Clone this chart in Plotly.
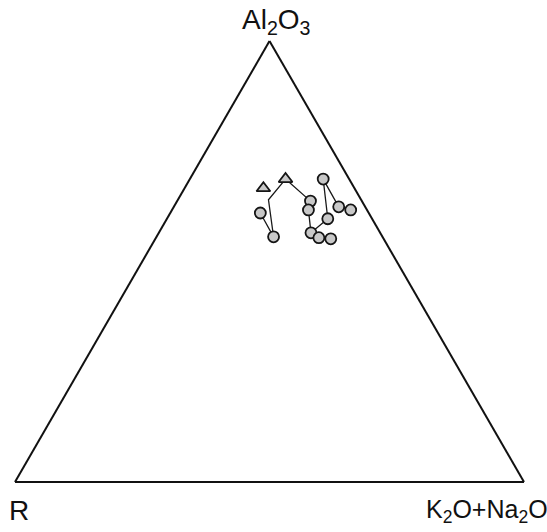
import plotly.graph_objects as go

# Ternary compositions (fractions): a = Al2O3, b = R, c = K2O+Na2O
# Series 1: trend running down the right-hand group
al2o3_s1 = [0.687, 0.637, 0.617, 0.565, 0.597, 0.687, 0.624, 0.617]
r_s1     = [0.125, 0.101, 0.115, 0.136, 0.087, 0.051, 0.052, 0.032]
alk_s1   = [0.188, 0.262, 0.268, 0.299, 0.316, 0.262, 0.324, 0.351]

# Series 2: short branch at the foot of series 1
al2o3_s2 = [0.565, 0.554, 0.552]
r_s2     = [0.136, 0.126, 0.104]
alk_s2   = [0.299, 0.320, 0.345]

# Series 3: left-hand trend (second vertex is a bend of the line only)
al2o3_s3 = [0.687, 0.640, 0.556, 0.610]
r_s3     = [0.125, 0.182, 0.214, 0.213]
alk_s3   = [0.188, 0.178, 0.230, 0.177]
marked_s3 = [True, False, True, True]

# Isolated sample
al2o3_s4 = [0.667]
r_s4     = [0.179]
alk_s4   = [0.155]

apex_label = "Al<sub>2</sub>O<sub>3</sub>"
left_label = "R"
right_label = "K<sub>2</sub>O+Na<sub>2</sub>O"

W, H = 547, 532
label_family = "Liberation Sans, Arial, sans-serif"

line_style = dict(color="#1a1a1a", width=1.3)
marker_circle = dict(symbol="circle", size=11, color="#c8c8c8",
                     line=dict(color="#151515", width=1.8))
marker_tri = dict(symbol="triangle-up", size=12, color="#c8c8c8",
                  line=dict(color="#151515", width=1.8))

fig = go.Figure()

# connecting lines
fig.add_trace(go.Scatterternary(a=al2o3_s1, b=r_s1, c=alk_s1, mode="lines",
                                line=line_style, hoverinfo="skip"))
fig.add_trace(go.Scatterternary(a=al2o3_s2, b=r_s2, c=alk_s2, mode="lines",
                                line=line_style, hoverinfo="skip"))
fig.add_trace(go.Scatterternary(a=al2o3_s3, b=r_s3, c=alk_s3, mode="lines",
                                line=line_style, hoverinfo="skip"))

# sample markers
fig.add_trace(go.Scatterternary(a=al2o3_s1[1:], b=r_s1[1:], c=alk_s1[1:],
                                mode="markers", marker=marker_circle))
fig.add_trace(go.Scatterternary(a=al2o3_s2[1:], b=r_s2[1:], c=alk_s2[1:],
                                mode="markers", marker=marker_circle))
s3_a = [v for v, m in zip(al2o3_s3, marked_s3) if m]
s3_b = [v for v, m in zip(r_s3, marked_s3) if m]
s3_c = [v for v, m in zip(alk_s3, marked_s3) if m]
fig.add_trace(go.Scatterternary(a=s3_a[1:], b=s3_b[1:], c=s3_c[1:],
                                mode="markers", marker=marker_circle))
fig.add_trace(go.Scatterternary(a=s3_a[:1] + al2o3_s4, b=s3_b[:1] + r_s4,
                                c=s3_c[:1] + alk_s4,
                                mode="markers", marker=marker_tri))

axis_style = dict(showticklabels=False, ticks="", showgrid=False,
                  showline=True, linecolor="#111111", linewidth=2, title=dict(text=""))

# triangle occupies pixels x 15..524, y 41..482
fig.update_layout(
    width=W, height=H,
    margin=dict(l=0, r=0, t=0, b=0),
    paper_bgcolor="white",
    showlegend=False,
    ternary=dict(
        domain=dict(x=[15 / W, 524 / W], y=[1 - 482 / H, 1 - 41 / H]),
        bgcolor="white",
        sum=1,
        aaxis=axis_style, baxis=axis_style, caxis=axis_style,
    ),
    annotations=[
        dict(text=apex_label, x=277 / W, y=1 - 21 / H, xref="paper", yref="paper",
             showarrow=False, font=dict(family=label_family, size=28, color="#111111"),
             xanchor="center", yanchor="middle"),
        dict(text=left_label, x=19 / W, y=1 - 510 / H, xref="paper", yref="paper",
             showarrow=False, font=dict(family=label_family, size=28, color="#111111"),
             xanchor="center", yanchor="middle"),
        dict(text=right_label, x=487 / W, y=1 - 511 / H, xref="paper", yref="paper",
             showarrow=False, font=dict(family=label_family, size=25, color="#111111"),
             xanchor="center", yanchor="middle"),
    ],
)

fig.write_html("out.html")
